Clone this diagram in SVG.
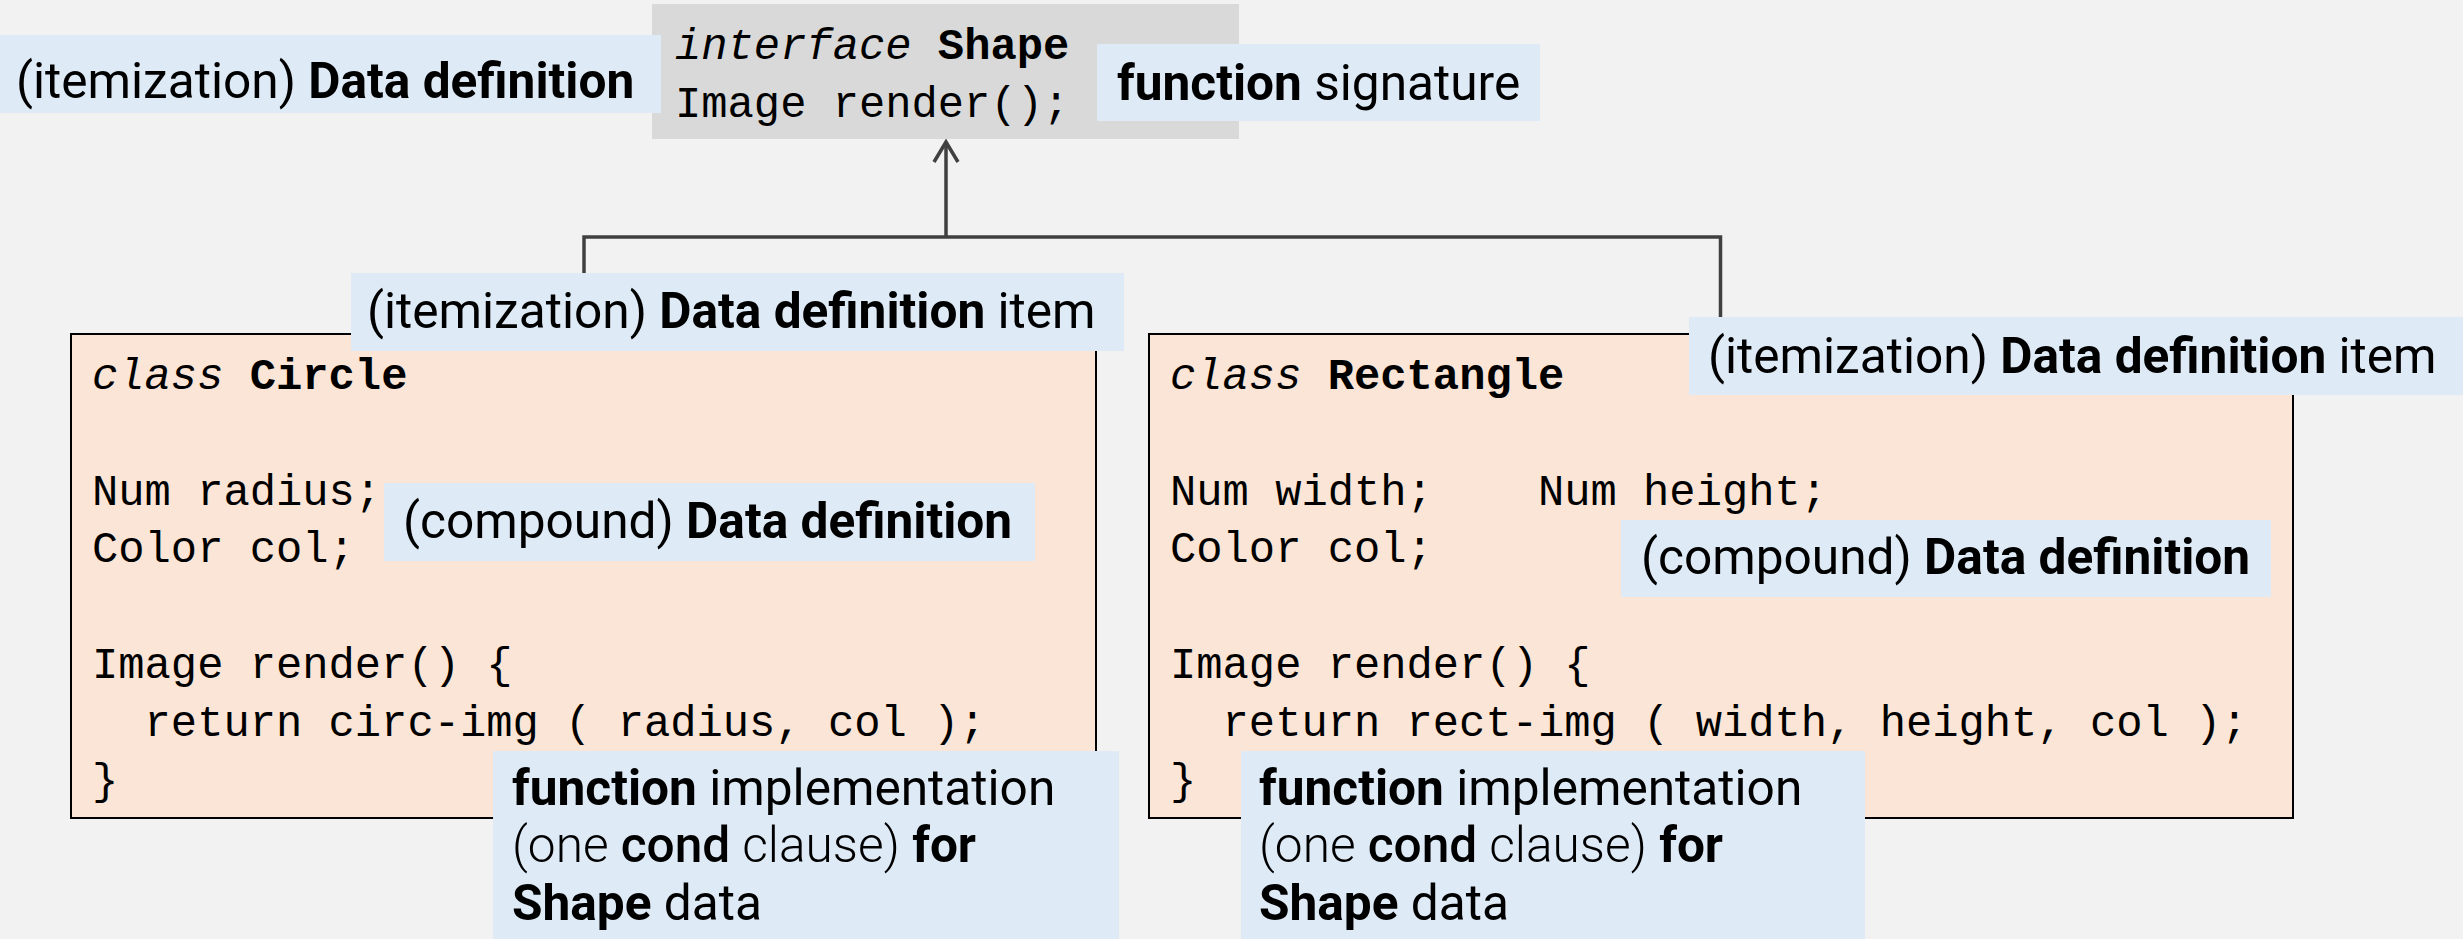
<svg xmlns="http://www.w3.org/2000/svg" width="2463" height="939" viewBox="0 0 2463 939">
  <defs>
    <style>
      .code { font-family: "Liberation Mono", "DejaVu Sans Mono", monospace; font-size: 43.8px; fill: #000; white-space: pre; }
      .it { font-style: italic; }
      .b { font-weight: bold; }
      .lbl { font-family: Roboto, "Liberation Sans", sans-serif; font-size: 49.6px; fill: #000; }
      .lt { font-weight: 300; }
      .md { font-weight: 500; }
      .labelbox { fill: #deeaf6; }
      .classbox { fill: #fbe5d6; stroke: #000; stroke-width: 2; }
      .conn { fill: none; stroke: #404040; stroke-width: 3.5; }
    </style>
  </defs>
  <rect x="0" y="0" width="2463" height="939" fill="#f2f2f2"/>

  <g id="connectors">
    <path class="conn" d="M584,334 V237 H1720.5 V334"/>
    <path class="conn" d="M946,237 V143"/>
    <path class="conn" d="M934,162 L946,142 L958,162"/>
  </g>

  <g id="shape">
    <rect x="652" y="4" width="587" height="135" fill="#d9d9d9"/>
    <text class="code" x="675" y="59"><tspan class="it">interface</tspan> <tspan class="b">Shape</tspan></text>
    <text class="code" x="675" y="117">Image render();</text>
  </g>

  <g id="circle">
    <rect class="classbox" x="71" y="334" width="1025" height="484"/>
    <text class="code" x="92" y="389"><tspan class="it">class</tspan> <tspan class="b">Circle</tspan></text>
    <text class="code" x="92" y="505">Num radius;</text>
    <text class="code" x="92" y="562">Color col;</text>
    <text class="code" x="92" y="678">Image render() {</text>
    <text class="code" x="92" y="736">  return circ-img ( radius, col );</text>
    <text class="code" x="92" y="794">}</text>
  </g>

  <g id="rectangle">
    <rect class="classbox" x="1149" y="334" width="1144" height="484"/>
    <text class="code" x="1170" y="389"><tspan class="it">class</tspan> <tspan class="b">Rectangle</tspan></text>
    <text class="code" x="1170" y="505">Num width;    Num height;</text>
    <text class="code" x="1170" y="562">Color col;</text>
    <text class="code" x="1170" y="678">Image render() {</text>
    <text class="code" x="1170" y="736">  return rect-img ( width, height, col );</text>
    <text class="code" x="1170" y="794">}</text>
  </g>

  <g id="label-itemization">
    <rect class="labelbox" x="0" y="35" width="661" height="78"/>
    <text class="lbl" x="16" y="98">(itemization) <tspan class="b">Data definition</tspan></text>
  </g>

  <g id="label-signature">
    <rect class="labelbox" x="1097" y="44" width="443" height="77"/>
    <text class="lbl" x="1117" y="100"><tspan class="b">function</tspan> signature</text>
  </g>

  <g id="label-item-circle">
    <rect class="labelbox" x="351" y="273" width="773" height="78"/>
    <text class="lbl" x="367" y="328">(itemization) <tspan class="b">Data definition</tspan> item</text>
  </g>

  <g id="label-item-rectangle">
    <rect class="labelbox" x="1689" y="317" width="774" height="78"/>
    <text class="lbl" x="1708" y="373">(itemization) <tspan class="b">Data definition</tspan> item</text>
  </g>

  <g id="label-compound-circle">
    <rect class="labelbox" x="384" y="483" width="651" height="78"/>
    <text class="lbl" x="403" y="538">(compound) <tspan class="b">Data definition</tspan></text>
  </g>

  <g id="label-compound-rectangle">
    <rect class="labelbox" x="1621" y="520" width="650" height="77"/>
    <text class="lbl" x="1641" y="574">(compound) <tspan class="b">Data definition</tspan></text>
  </g>

  <g id="label-impl-circle">
    <rect class="labelbox" x="493" y="751" width="626" height="188"/>
    <text class="lbl" x="512" y="805"><tspan class="b">function</tspan> implementation</text>
    <text class="lbl" x="512" y="862"><tspan class="lt">(one </tspan><tspan class="md">cond</tspan><tspan class="lt"> clause)</tspan> <tspan class="b">for</tspan></text>
    <text class="lbl" x="512" y="920"><tspan class="b">Shape</tspan> data</text>
  </g>

  <g id="label-impl-rectangle">
    <rect class="labelbox" x="1241" y="751" width="624" height="188"/>
    <text class="lbl" x="1259" y="805"><tspan class="b">function</tspan> implementation</text>
    <text class="lbl" x="1259" y="862"><tspan class="lt">(one </tspan><tspan class="md">cond</tspan><tspan class="lt"> clause)</tspan> <tspan class="b">for</tspan></text>
    <text class="lbl" x="1259" y="920"><tspan class="b">Shape</tspan> data</text>
  </g>
</svg>
